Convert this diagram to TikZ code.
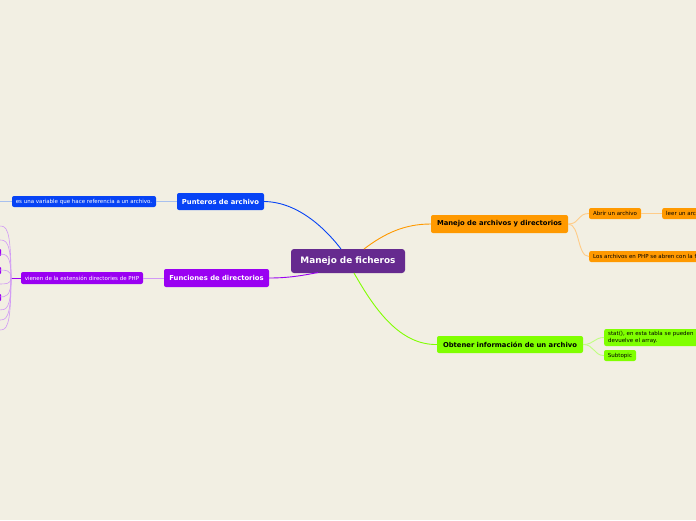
\documentclass[tikz,border=0pt]{standalone}
\usepackage{fontspec}
\setmainfont{DejaVu Sans}
\definecolor{bg}{HTML}{F2EFE3}
\definecolor{cpurple}{HTML}{662A8F}
\definecolor{cblue}{HTML}{0743F5}
\definecolor{cviolet}{HTML}{9A00F2}
\definecolor{corange}{HTML}{FF9900}
\definecolor{cgreen}{HTML}{80FF00}
\definecolor{lblue}{HTML}{A8C0EE}
\definecolor{lviolet}{HTML}{D199F5}
\definecolor{lorange}{HTML}{FFCC88}
\definecolor{lgreen}{HTML}{BFFF80}
\tikzset{
  box/.style={rounded corners=2pt, inner sep=0pt, align=center},
  central/.style={box, fill=cpurple, text=white, rounded corners=3pt, font=\fontsize{8.9}{10.5}\selectfont\bfseries},
  branch/.style={box, font=\fontsize{6.8}{8}\selectfont\bfseries},
  leaf/.style={box, font=\fontsize{5.5}{6.3}\selectfont},
  leafl/.style={leaf, anchor=west, align=left, inner xsep=4pt},
  conn/.style={line width=0.9pt},
  sub/.style={line width=0.9pt}
}
\begin{document}
\begin{tikzpicture}[x=1pt,y=-1pt]
\fill[bg] (0,0) rectangle (696,520);
\useasboundingbox (0,0) rectangle (696,520);
\clip (0,0) rectangle (696,520);

% central
\node[central, minimum width=114pt, minimum height=24pt] (c) at (348,261) {Manejo de ficheros};

% Punteros
\node[branch, fill=cblue, text=white, minimum width=87pt, minimum height=17pt] (pa) at (220.5,201.5) {Punteros de archivo};
\node[leaf, fill=cblue, text=white, minimum width=144pt, minimum height=11pt] (pa1) at (84,201.5) {es una variable que hace referencia a un archivo.};
\coordinate (pa2) at (-4,201.5);

% Funciones
\node[branch, fill=cviolet, text=white, minimum width=105pt, minimum height=18pt] (fd) at (216.5,278) {Funciones de directorios};
\node[leaf, fill=cviolet, text=white, minimum width=122pt, minimum height=12pt] (fd1) at (82,278) {vienen de la extensión directories de PHP};
\coordinate (fj) at (11,278);
\fill[cviolet, rounded corners=1pt] (-4,249) rectangle (1.2,256);
\fill[cviolet, rounded corners=1pt] (-4,267) rectangle (1.2,274);
\fill[cviolet, rounded corners=1pt] (-4,294) rectangle (1.2,301);

% Manejo de archivos
\node[branch, fill=corange, text=black, minimum width=137pt, minimum height=18pt] (ma) at (499.5,224) {Manejo de archivos y directorios};
\node[leaf, fill=corange, text=black, minimum width=52pt, minimum height=11pt] (ab) at (615,213.5) {Abrir un archivo};
\node[leafl, fill=corange, text=black, text width=60pt, minimum height=11pt] (le) at (662,213.5) {leer un archivo};
\node[leafl, fill=corange, text=black, text width=150pt, minimum height=11pt] (la) at (589,256.5) {Los archivos en PHP se abren con la función};

% Obtener
\node[branch, fill=cgreen, text=black, minimum width=146pt, minimum height=17pt] (ob) at (510,344.5) {Obtener información de un archivo};
\node[leafl, fill=cgreen, text=black, text width=120pt, minimum height=17pt] (st) at (604,337.5) {stat(), en esta tabla se pueden\\devuelve el array.};
\node[leaf, fill=cgreen, text=black, minimum width=32pt, minimum height=11pt] (su) at (620,355.5) {Subtopic};

% main connectors
\draw[conn, cblue] (pa.east) .. controls (300,202) and (328,232) .. (341,249);
\draw[conn, corange] (364,249) .. controls (385,233) and (405,224) .. (ma.west);
\draw[conn, cviolet] (fd.east) .. controls (290,278) and (305,275) .. (318,272.5);
\draw[conn, cgreen] (354,273) .. controls (375,310) and (400,345) .. (ob.west);

% sub connectors
\draw[sub, lblue] (pa.west) -- (pa1.east);
\draw[sub, lblue] (pa1.west) -- (pa2);
\draw[sub, lviolet] (fd.west) -- (fd1.east);
\draw[sub, cviolet] (fd1.west) -- (fj);
\foreach \yy in {226,240,254,270,284,297,310,320,330} {
  \draw[line width=0.6pt, lviolet] (fj) .. controls (11,\yy) and (6,\yy) .. (-1,\yy);
}
\draw[sub, lorange] (ma.east) .. controls (580,224) and (577,213.5) .. (ab.west);
\draw[sub, lorange] (ma.east) .. controls (580,224) and (577,256.5) .. (la.west);
\draw[sub, lorange] (ab.east) -- (le.west);
\draw[sub, lgreen] (ob.east) .. controls (594,344.5) and (594,337.5) .. (st.west);
\draw[sub, lgreen] (ob.east) .. controls (594,344.5) and (594,355.5) .. (su.west);
\end{tikzpicture}
\end{document}
